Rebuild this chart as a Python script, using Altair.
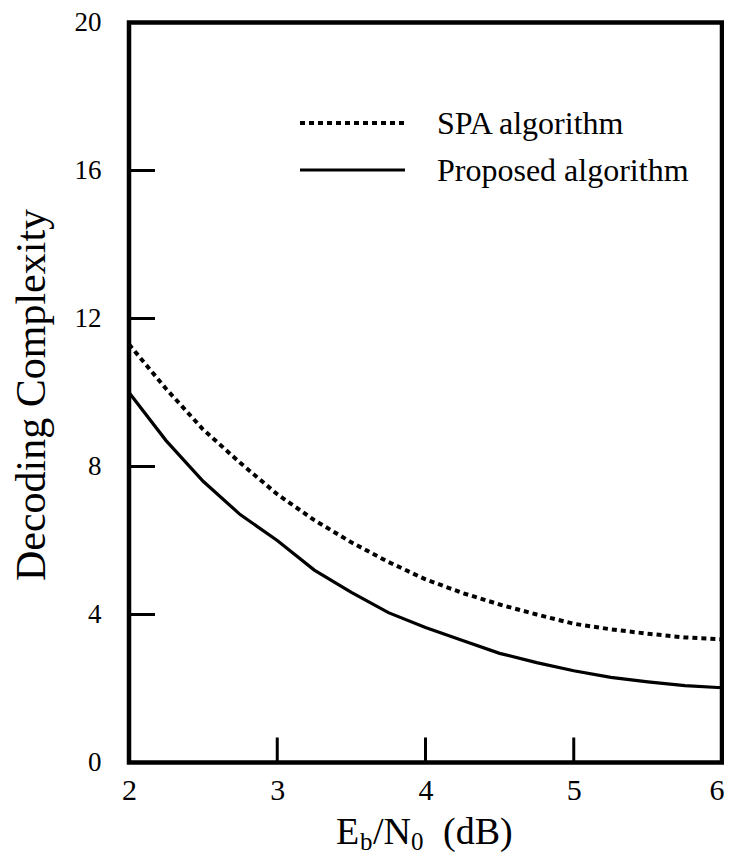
import altair as alt
import pandas as pd

# ---- data ----
snr = [2.0, 2.25, 2.5, 2.75, 3.0, 3.25, 3.5, 3.75, 4.0, 4.25, 4.5, 4.75, 5.0, 5.25, 5.5, 5.75, 6.0]
spa = [11.3, 10.1, 9.0, 8.1, 7.25, 6.55, 5.95, 5.42, 4.95, 4.58, 4.27, 4.0, 3.75, 3.6, 3.48, 3.38, 3.33]
proposed = [10.0, 8.7, 7.6, 6.7, 6.0, 5.2, 4.6, 4.05, 3.65, 3.3, 2.95, 2.7, 2.48, 2.3, 2.18, 2.08, 2.02]
x_ticks = [2, 3, 4, 5, 6]
y_ticks = [0, 4, 8, 12, 16, 20]
x_inner_ticks = [3, 4, 5]
y_inner_ticks = [4, 8, 12, 16]
series_names = ["SPA algorithm", "Proposed algorithm"]

FONT = "Liberation Serif, Times New Roman, serif"
W, H = 593, 740

df = pd.DataFrame({
    "snr": snr * 2,
    "value": spa + proposed,
    "series": [series_names[0]] * len(snr) + [series_names[1]] * len(snr),
})

xs = alt.Scale(domain=[2, 6], nice=False, zero=False)
ys = alt.Scale(domain=[0, 20], nice=False)

xaxis = alt.Axis(values=x_ticks, format="d", ticks=False, domain=False, grid=False,
                 labelFont=FONT, labelFontSize=30, labelColor="black",
                 labelPadding=13, title=None, labelFlush=False,
                 labelAlign={"condition": {"test": "datum.value >= 6", "value": "right"},
                             "value": "center"},
                 labelOffset={"condition": {"test": "datum.value >= 6", "value": 2},
                              "value": 0})
yaxis = alt.Axis(values=y_ticks, format="d", ticks=False, domain=False, grid=False,
                 labelFont=FONT, labelFontSize=27, labelColor="black",
                 labelPadding=28, title="Decoding Complexity",
                 titleFont=FONT, titleFontSize=42, titleFontWeight="normal",
                 titleColor="black", titleAngle=-90, titleX=-85, titleY=372,
                 titleAlign="center", titleBaseline="alphabetic", labelFlush=False)

base = alt.Chart(df)

spa_line = base.transform_filter(alt.datum.series == series_names[0]).mark_line(
    color="black", strokeWidth=4, strokeDash=[5, 4], interpolate="linear"
).encode(x=alt.X("snr:Q", scale=xs, axis=xaxis), y=alt.Y("value:Q", scale=ys, axis=yaxis))

prop_line = base.transform_filter(alt.datum.series == series_names[1]).mark_line(
    color="black", strokeWidth=3.2, interpolate="linear"
).encode(x=alt.X("snr:Q", scale=xs), y=alt.Y("value:Q", scale=ys))

ytick_df = pd.DataFrame({"v": y_inner_ticks})
xtick_df = pd.DataFrame({"v": x_inner_ticks})

ytick_marks = alt.Chart(ytick_df).mark_rule(color="black", strokeWidth=3).encode(
    y=alt.Y("v:Q", scale=ys), x=alt.value(0), x2=alt.value(26))
xtick_marks = alt.Chart(xtick_df).mark_rule(color="black", strokeWidth=3).encode(
    x=alt.X("v:Q", scale=xs), y=alt.value(H), y2=alt.value(H - 25))

# ---- manual legend ----
leg_df = pd.DataFrame({"series": series_names})
leg_spa = alt.Chart(leg_df).transform_filter(alt.datum.series == series_names[0]).mark_rule(
    color="black", strokeWidth=4, strokeDash=[5, 4]).encode(
    x=alt.value(171), x2=alt.value(276), y=alt.value(100.5))
leg_prop = alt.Chart(leg_df).transform_filter(alt.datum.series == series_names[1]).mark_rule(
    color="black", strokeWidth=3.2).encode(
    x=alt.value(171), x2=alt.value(276), y=alt.value(147.5))
leg_spa_txt = alt.Chart(leg_df).transform_filter(alt.datum.series == series_names[0]).mark_text(
    font=FONT, fontSize=32, align="left", baseline="middle", color="black").encode(
    x=alt.value(308), y=alt.value(101), text="series:N")
leg_prop_txt = alt.Chart(leg_df).transform_filter(alt.datum.series == series_names[1]).mark_text(
    font=FONT, fontSize=32, align="left", baseline="middle", color="black").encode(
    x=alt.value(308), y=alt.value(148), text="series:N")

# ---- x-axis title with subscripts ----
xt_parts = ["E", "b", "/N", "0", "(dB)"]
xt_sizes = [38, 25, 38, 25, 38]
xt_x = [207, 231, 244, 282, 314]
xt_dy = [0, 6, 0, 6, 0]
xt_df = pd.DataFrame({"t": xt_parts})
xt_layers = []
for i in range(len(xt_parts)):
    xt_layers.append(
        alt.Chart(xt_df).transform_filter(alt.datum.t == xt_parts[i]).mark_text(
            font=FONT, fontSize=xt_sizes[i], align="left", baseline="alphabetic",
            color="black").encode(x=alt.value(xt_x[i]), y=alt.value(821 + xt_dy[i]), text="t:N")
    )

chart = alt.layer(
    spa_line, prop_line, ytick_marks, xtick_marks,
    leg_spa, leg_prop, leg_spa_txt, leg_prop_txt, *xt_layers
).properties(
    width=W, height=H,
    autosize=alt.AutoSizeParams(type="none"),
    padding={"left": 121, "top": 14.5, "right": 2, "bottom": 91},
    background="white",
).configure_view(stroke="black", strokeWidth=4.5)

chart.save("out.html", embed_options={"renderer": "svg", "actions": False})
